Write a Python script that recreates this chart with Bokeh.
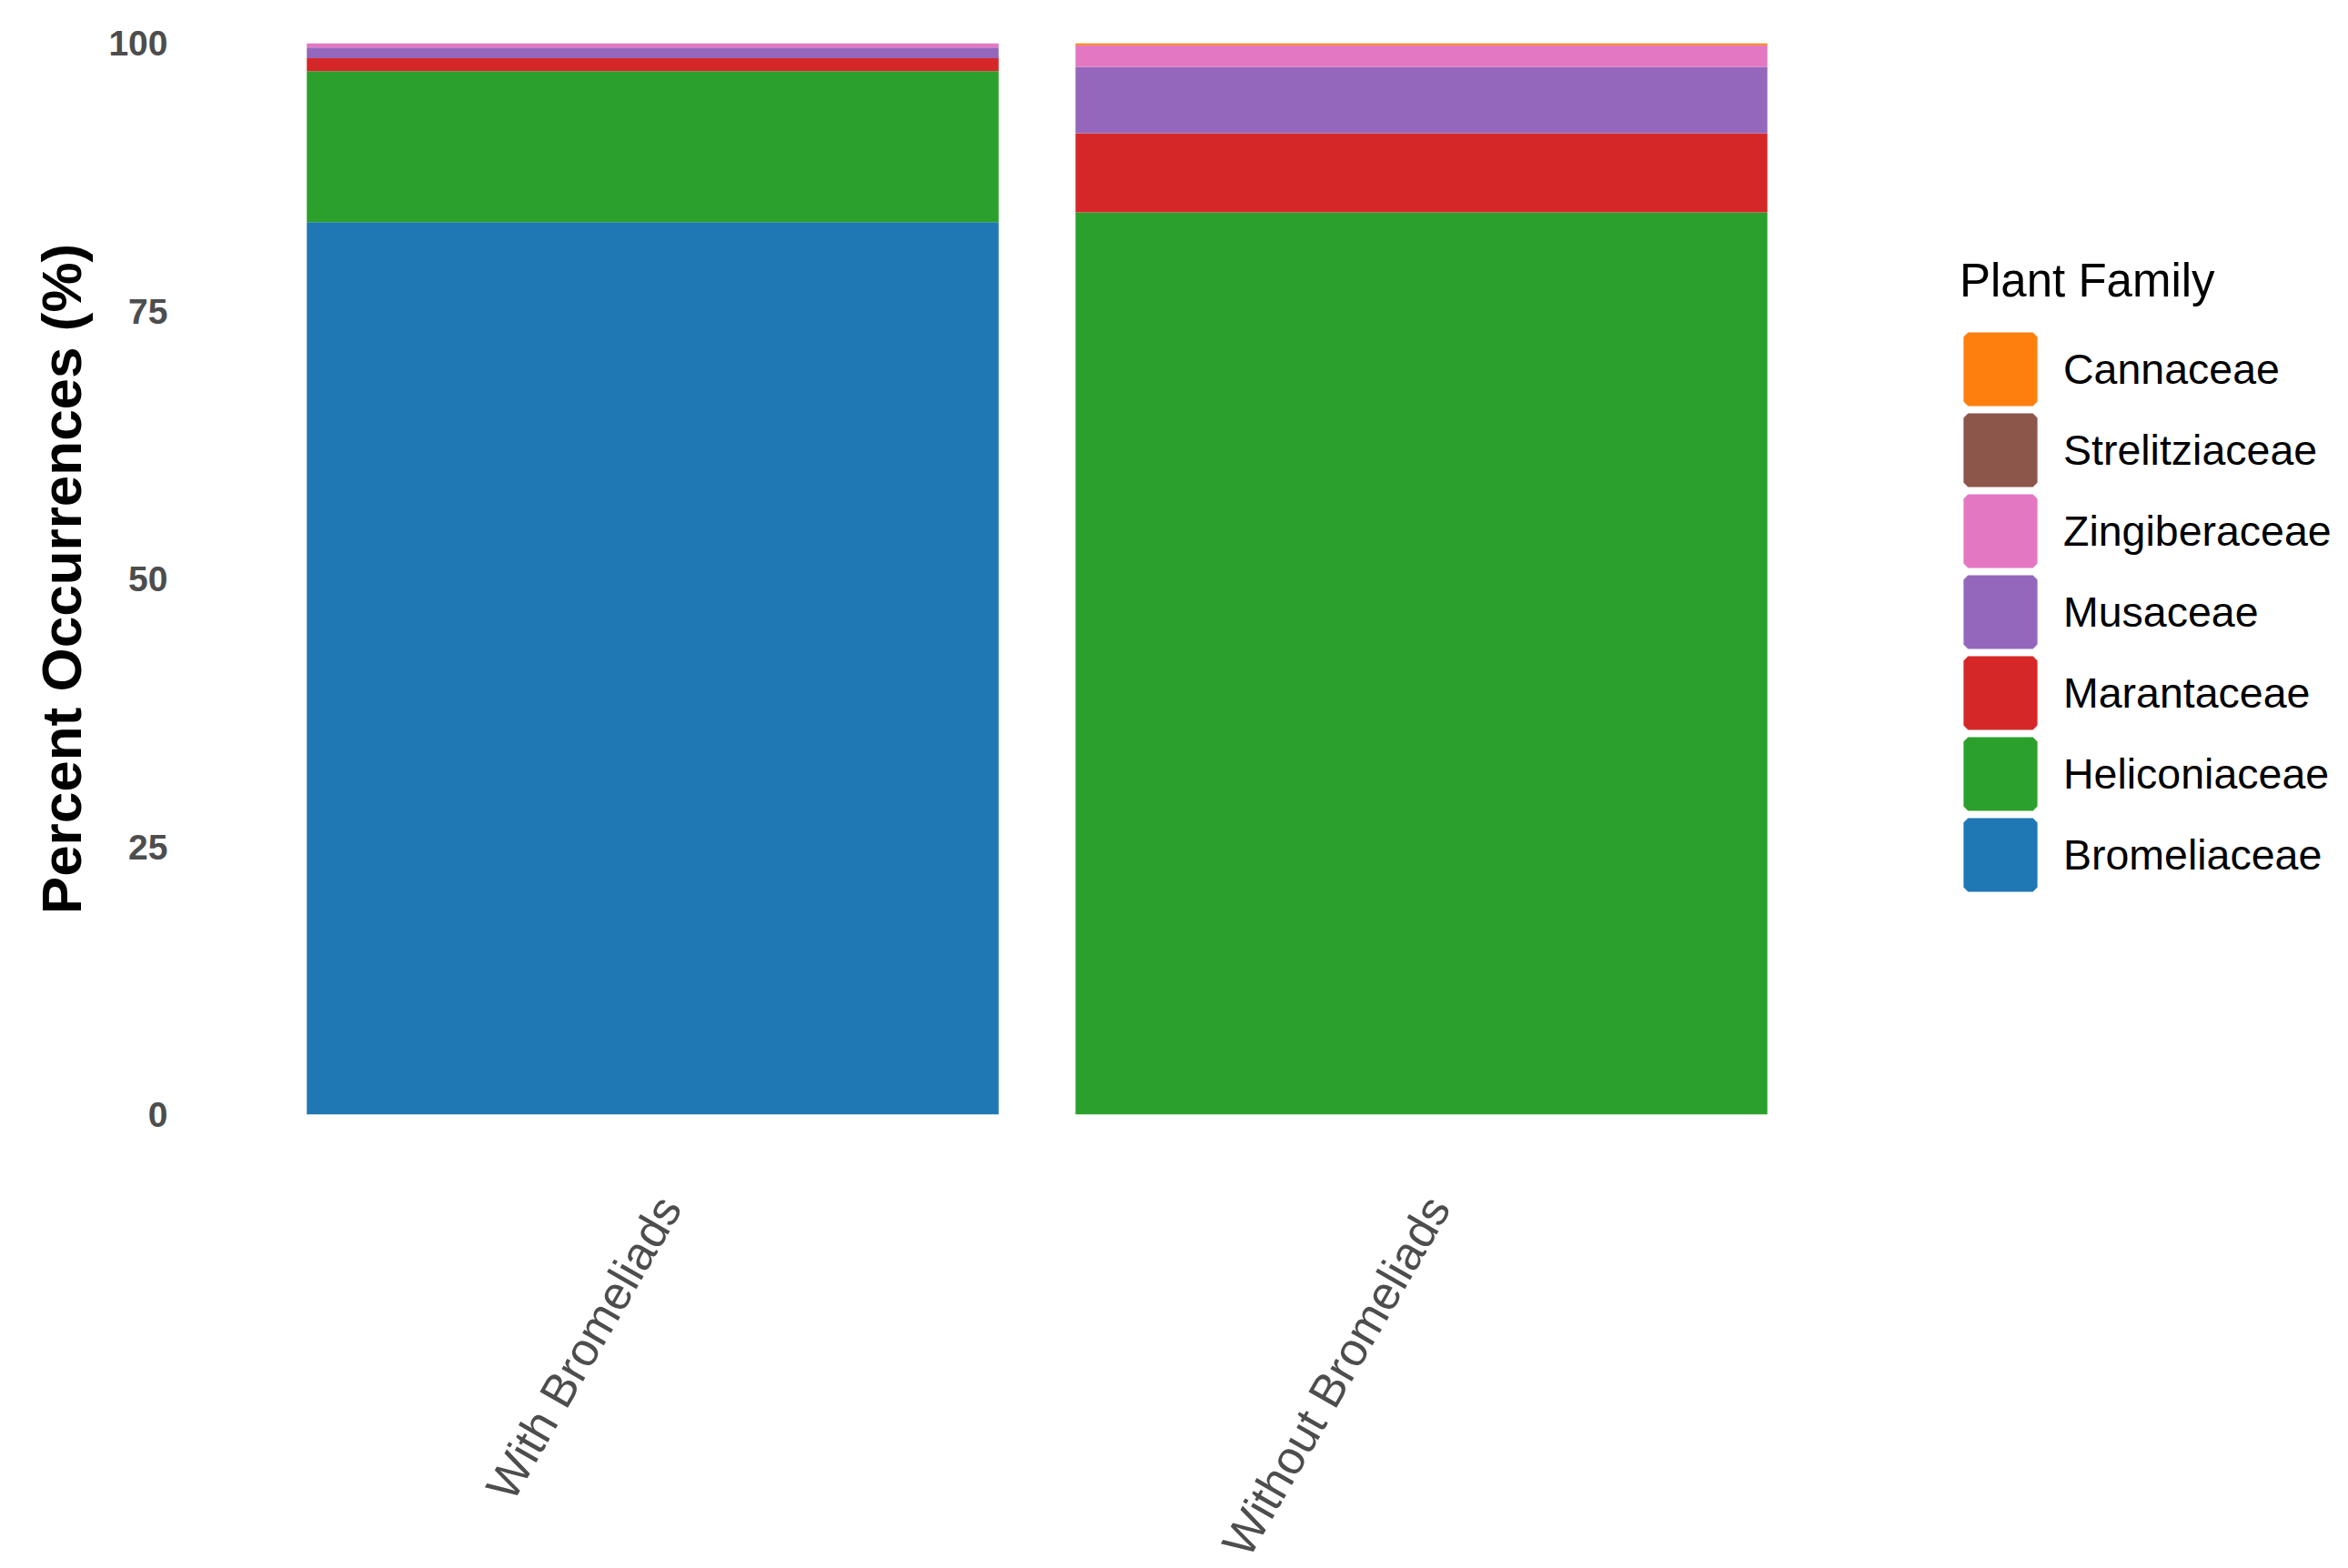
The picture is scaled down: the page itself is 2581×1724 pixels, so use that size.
import numpy as np
from bokeh.plotting import figure
from bokeh.models import (Range1d, FixedTicker, Legend, LegendItem,
                          ColumnDataSource, LinearAxis)
from bokeh.embed import file_html
from bokeh.resources import INLINE

groups = ["With Bromeliads", "Without Bromeliads"]
families = ["Bromeliaceae", "Heliconiaceae", "Marantaceae", "Musaceae",
            "Zingiberaceae", "Strelitziaceae", "Cannaceae"]
colors = ["#1f77b4", "#2ca02c", "#d62728", "#9467bd", "#e377c2", "#8c564b", "#ff7f0e"]

bromeliaceae = [83.3, 0.0]
heliconiaceae = [14.1, 84.2]
marantaceae = [1.2, 7.4]
musaceae = [1.0, 6.2]
zingiberaceae = [0.4, 2.0]
strelitziaceae = [0.0, 0.0]
cannaceae = [0.0, 0.2]

y_ticks = [0, 25, 50, 75, 100]

n = len(groups)
centers = [i + 0.5 for i in range(n)]

src = ColumnDataSource(dict(
    x=centers,
    group=groups,
    Bromeliaceae=bromeliaceae,
    Heliconiaceae=heliconiaceae,
    Marantaceae=marantaceae,
    Musaceae=musaceae,
    Zingiberaceae=zingiberaceae,
    Strelitziaceae=strelitziaceae,
    Cannaceae=cannaceae,
))

pad = 0.1
p = figure(
    x_range=Range1d(-pad, n + pad),
    y_range=Range1d(0, 100),
    width=2565, height=1708,
    frame_width=1859, frame_height=1178,
    min_border_left=210, min_border_top=47, min_border_right=496, min_border_bottom=483,
    output_backend="svg", toolbar_location=None,
)

p.vbar_stack(families, x="x", width=0.9, color=colors, source=src, line_color=None)

# legend key renderers: a single NaN bar each (never drawn in the plot),
# used only to draw the legend swatches
key_renderers = []
for f, c in zip(families, colors):
    key_src = ColumnDataSource(dict(x=np.array([centers[0]]), top=np.array([np.nan])))
    r = p.vbar(x="x", top="top", width=0.9, source=key_src,
               fill_color=c, line_color=c, line_width=10)
    key_renderers.append(r)

# label axis: same scale, nudged slightly so rotated labels sit like the
# reference's (ggplot hjust=1 anchoring)
shift = 0.021
p.extra_x_ranges = {"lab": Range1d(-pad - shift, n + pad - shift)}
lab_axis = LinearAxis(x_range_name="lab")
lab_axis.ticker = FixedTicker(ticks=centers)
lab_axis.major_label_overrides = {c: g for c, g in zip(centers, groups)}
p.add_layout(lab_axis, "below")
p.xaxis[0].visible = False

items = [LegendItem(label=f, renderers=[r]) for f, r in zip(families, key_renderers)]
items = items[::-1]
legend = Legend(items=items, location=(85, 241))
legend.title = "Plant Family"
legend.title_text_font = "Liberation Sans"
legend.title_text_font_size = "51px"
legend.title_text_color = "#000000"
legend.title_text_font_style = "normal"
legend.title_standoff = 23
legend.label_text_font = "Liberation Sans"
legend.label_text_font_size = "46.5px"
legend.label_text_color = "#000000"
legend.glyph_width = 89
legend.glyph_height = 89
legend.label_height = 89
legend.label_standoff = 25
legend.spacing = 0
legend.padding = 0
legend.margin = 0
legend.border_line_color = None
legend.background_fill_alpha = 0
p.add_layout(legend, "right")

p.xgrid.visible = False
p.ygrid.visible = False
p.outline_line_color = None

p.yaxis.ticker = FixedTicker(ticks=y_ticks)
p.yaxis.axis_label = "Percent Occurrences (%)"
p.yaxis.axis_label_text_font = "Liberation Sans"
p.yaxis.axis_label_text_font_size = "62px"
p.yaxis.axis_label_text_font_style = "bold"
p.yaxis.axis_label_text_color = "#000000"
p.yaxis.axis_label_standoff = 14
p.yaxis.major_label_text_font = "Liberation Sans"
p.yaxis.major_label_text_font_size = "39px"
p.yaxis.major_label_text_font_style = "bold"
p.yaxis.major_label_text_color = "#4d4d4d"
p.yaxis.major_label_standoff = 26

lab_axis.major_label_orientation = 1.0472
lab_axis.major_label_text_font = "Liberation Sans"
lab_axis.major_label_text_font_size = "51.5px"
lab_axis.major_label_text_color = "#4d4d4d"
lab_axis.major_label_standoff = 94

for ax in (lab_axis, p.yaxis[0]):
    ax.axis_line_color = None
    ax.major_tick_line_color = None
    ax.minor_tick_line_color = None
    ax.major_tick_out = 0
    ax.major_tick_in = 0
    ax.minor_tick_out = 0
    ax.minor_tick_in = 0

open("out.html", "w").write(file_html(p, INLINE))
